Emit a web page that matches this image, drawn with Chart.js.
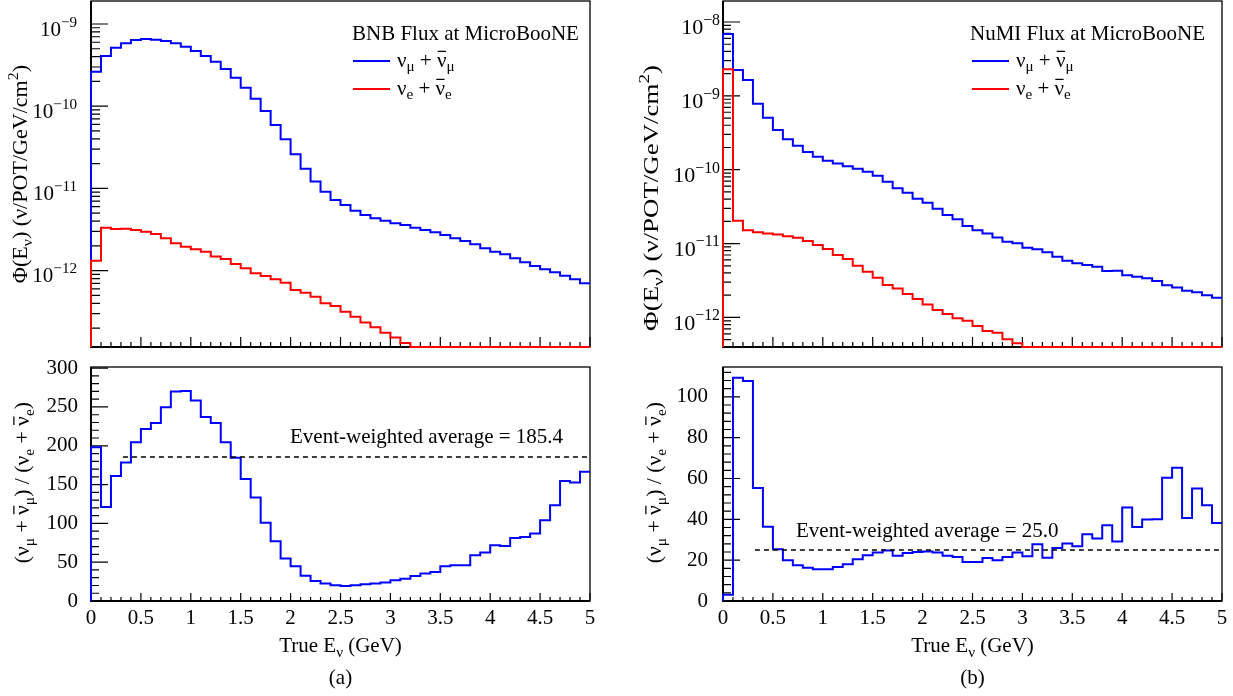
<!DOCTYPE html>
<html>
<head>
<meta charset="utf-8">
<script src="https://cdn.jsdelivr.net/npm/chart.js@4.4.1/dist/chart.umd.min.js"></script>
<style>
  body { margin: 0; background: #fff; width: 1233px; height: 696px; overflow: hidden; position: relative; }
  canvas { position: absolute; left: 0; top: 0; }
</style>
</head>
<body>
<canvas id="bnbFlux" width="1233" height="696"></canvas>
<canvas id="numiFlux" width="1233" height="696"></canvas>
<canvas id="bnbRatio" width="1233" height="696"></canvas>
<canvas id="numiRatio" width="1233" height="696"></canvas>
<script>
// bin edges of the true neutrino energy histograms (GeV)
const binEdges = [0, 0.1, 0.2, 0.3, 0.4, 0.5, 0.6, 0.7, 0.8, 0.9, 1, 1.1, 1.2, 1.3, 1.4, 1.5, 1.6, 1.7, 1.8, 1.9,
  2, 2.1, 2.2, 2.3, 2.4, 2.5, 2.6, 2.7, 2.8, 2.9, 3, 3.1, 3.2, 3.3, 3.4, 3.5, 3.6, 3.7, 3.8, 3.9,
  4, 4.1, 4.2, 4.3, 4.4, 4.5, 4.6, 4.7, 4.8, 4.9, 5];
const xMajorTicks = [0, 0.5, 1, 1.5, 2, 2.5, 3, 3.5, 4, 4.5, 5];

// flux per bin, nu/POT/GeV/cm2
const bnbNumu = [2.63e-10, 4.08e-10, 5.15e-10, 5.82e-10, 6.39e-10, 6.57e-10, 6.44e-10, 6.21e-10, 5.82e-10, 5.30e-10,
  4.70e-10, 4.08e-10, 3.48e-10, 2.84e-10, 2.22e-10, 1.68e-10, 1.23e-10, 8.75e-11, 5.91e-11, 3.95e-11,
  2.60e-11, 1.73e-11, 1.21e-11, 9.12e-12, 7.23e-12, 6.28e-12, 5.36e-12, 4.75e-12, 4.33e-12, 4.05e-12,
  3.76e-12, 3.59e-12, 3.33e-12, 3.12e-12, 2.92e-12, 2.71e-12, 2.47e-12, 2.29e-12, 2.09e-12, 1.87e-12,
  1.70e-12, 1.58e-12, 1.41e-12, 1.26e-12, 1.14e-12, 1.04e-12, 9.53e-13, 8.67e-13, 7.83e-13, 7.00e-13];
const bnbNue = [1.32e-12, 3.33e-12, 3.21e-12, 3.24e-12, 3.12e-12, 2.97e-12, 2.79e-12, 2.47e-12, 2.15e-12, 1.95e-12,
  1.82e-12, 1.70e-12, 1.48e-12, 1.38e-12, 1.20e-12, 1.07e-12, 9.27e-13, 8.59e-13, 7.83e-13, 7.13e-13,
  5.81e-13, 5.39e-13, 4.81e-13, 4.00e-13, 3.71e-13, 3.16e-13, 2.75e-13, 2.34e-13, 2.04e-13, 1.75e-13,
  1.54e-13, 1.32e-13, 0, 0, 0, 0, 0, 0, 0, 0,
  0, 0, 0, 0, 0, 0, 0, 0, 0, 0];
const numiNumu = [6.88e-9, 2.24e-9, 1.64e-9, 7.83e-10, 5.06e-10, 3.45e-10, 2.58e-10, 2.11e-10, 1.74e-10, 1.50e-10,
  1.32e-10, 1.21e-10, 1.11e-10, 1.03e-10, 9.40e-11, 8.30e-11, 6.89e-11, 5.60e-11, 4.89e-11, 4.05e-11,
  3.57e-11, 2.96e-11, 2.44e-11, 2.13e-11, 1.73e-11, 1.52e-11, 1.37e-11, 1.21e-11, 1.06e-11, 1.01e-11,
  8.79e-12, 8.36e-12, 7.61e-12, 6.64e-12, 5.86e-12, 5.40e-12, 5.12e-12, 4.86e-12, 4.25e-12, 4.29e-12,
  3.72e-12, 3.56e-12, 3.38e-12, 3.11e-12, 2.72e-12, 2.55e-12, 2.30e-12, 2.19e-12, 1.99e-12, 1.85e-12];
const numiNue = [2.29e-9, 2.04e-11, 1.52e-11, 1.42e-11, 1.37e-11, 1.33e-11, 1.26e-11, 1.20e-11, 1.08e-11, 9.55e-12,
  8.43e-12, 7.00e-12, 6.17e-12, 5.01e-12, 4.16e-12, 3.45e-12, 2.75e-12, 2.47e-12, 2.07e-12, 1.77e-12,
  1.50e-12, 1.26e-12, 1.11e-12, 9.71e-13, 9.02e-13, 7.64e-13, 6.54e-13, 6.21e-13, 5.05e-13, 4.46e-13,
  0, 0, 0, 0, 0, 0, 0, 0, 0, 0,
  0, 0, 0, 0, 0, 0, 0, 0, 0, 0];

// numu / nue ratio per bin
const bnbRatio = [198, 121, 161, 178.6, 204.4, 221.7, 229.4, 249.6, 269.9, 270.7,
  258.3, 237.2, 229.4, 204.4, 184.7, 157.1, 133.4, 100.7, 77.0, 54.7,
  44.8, 32.6, 25.8, 22.4, 20.2, 19.4, 20.2, 21.5, 22.4, 23.7,
  26.7, 28.8, 32.3, 35.3, 37.4, 44.8, 46.1, 46.1, 59, 62.4,
  71.9, 71, 81.3, 82.6, 86.9, 104.2, 123.5, 154.5, 152.8, 166.6];
const numiRatio = [3.1, 109.3, 107.7, 55.4, 36.4, 25.3, 19.9, 17.5, 16.3, 15.5,
  15.5, 16.7, 18.0, 20.4, 22.4, 23.7, 24.7, 22.1, 23.5, 24.0,
  24.3, 23.7, 22.1, 21.6, 19.1, 19.1, 21.1, 19.9, 21.6, 23.7,
  21.9, 27.8, 21.2, 26.0, 28.1, 26.8, 32.7, 30.6, 37.1, 29.2,
  45.8, 36.3, 39.9, 40.0, 60.3, 65.2, 40.7, 55.1, 46.9, 38.2];
const bnbAverage = 185.4;
const numiAverage = 25.0;
const averageFrom = 0.32;

const bnbRatioTicks = [0, 50, 100, 150, 200, 250, 300];
const numiRatioTicks = [0, 20, 40, 60, 80, 100];

const SERIF = "'Liberation Serif', 'DejaVu Serif', serif";
const BLUE = '#0000ff';
const RED = '#ff0000';
const FONT = 21;

// rich text pieces: [text, mode] where mode is sub, sup or bar (overline)
const numuLabel = [['ν'], ['μ', 'sub'], [' + '], ['ν', 'bar'], ['μ', 'sub']];
const nueLabel = [['ν'], ['e', 'sub'], [' + '], ['ν', 'bar'], ['e', 'sub']];
const fluxTitle = [['Φ(E'], ['ν', 'sub'], [') (ν/POT/GeV/cm'], ['2', 'sup'], [')']];
const ratioTitle = [['(ν'], ['μ', 'sub'], [' + '], ['ν', 'bar'], ['μ', 'sub'], [') / (ν'], ['e', 'sub'], [' + '], ['ν', 'bar'], ['e', 'sub'], [')']];
const energyTitle = [['True E'], ['ν', 'sub'], [' (GeV)']];

function drawRich(ctx, parts, x, y, size, align) {
  const segs = parts.map(([text, mode]) => {
    const s = (mode === 'sub' || mode === 'sup') ? size * 0.72 : size;
    ctx.font = s + 'px ' + SERIF;
    return {text, mode, s, w: ctx.measureText(text).width};
  });
  const total = segs.reduce((acc, g) => acc + g.w, 0);
  let cx = align === 'right' ? x - total : align === 'center' ? x - total / 2 : x;
  ctx.textAlign = 'left';
  ctx.textBaseline = 'alphabetic';
  segs.forEach(g => {
    ctx.font = g.s + 'px ' + SERIF;
    const dy = g.mode === 'sub' ? size * 0.22 : g.mode === 'sup' ? -size * 0.42 : 0;
    ctx.fillText(g.text, cx, y + dy);
    if (g.mode === 'bar') {
      ctx.beginPath();
      ctx.lineWidth = size * 0.06;
      ctx.moveTo(cx + g.w * 0.08, y - size * 0.72);
      ctx.lineTo(cx + g.w * 0.95, y - size * 0.72);
      ctx.stroke();
    }
    cx += g.w;
  });
}

// step outline: start on the axis floor, then one point per bin upper edge;
// empty bins sit on the floor like in the original log plots
function histPoints(values, floor) {
  const pts = [{x: binEdges[0], y: floor}];
  values.forEach((v, i) => pts.push({x: binEdges[i + 1], y: v > 0 ? v : floor}));
  return pts;
}

function logTicks(min, max) {
  const out = [];
  for (let e = Math.floor(Math.log10(min)); e <= Math.ceil(Math.log10(max)); e++) {
    for (let m = 1; m <= 9; m++) {
      const v = m * Math.pow(10, e);
      if (v >= min && v <= max) out.push(v);
    }
  }
  return out;
}

function stepTicks(step, max) {
  const out = [];
  for (let v = 0; v <= max + 1e-9; v += step) out.push(v);
  return out;
}

const isDecade = v => Math.abs(Math.log10(v) - Math.round(Math.log10(v))) < 1e-6;

const bnbFloor = 1.177e-13;
const numiFloor = 3.975e-13;

const panels = {
  bnbFlux: {
    area: {l: 91, r: 590, t: 1, b: 347}, xAxisH: 5, xLabels: false,
    yType: 'logarithmic', yMin: bnbFloor, yMax: 1.905e-9,
    yTick: [17, 9], xTick: [10, 5], yPad: 14, labelSize: 21,
    yTitle: {parts: fluxTitle, x: 27, y: 65, size: FONT, stretch: 1.05},
    legend: {title: 'BNB Flux at MicroBooNE', x: 352, y: 40, lx1: 353, lx2: 390, tx: 397, rows: [61, 89]},
    datasets: [
      {data: histPoints(bnbNumu, bnbFloor), borderColor: BLUE, order: 2},
      {data: histPoints(bnbNue, bnbFloor), borderColor: RED, order: 1}
    ]
  },
  numiFlux: {
    area: {l: 723, r: 1222, t: 1, b: 347}, xAxisH: 5, xLabels: false,
    yType: 'logarithmic', yMin: numiFloor, yMax: 1.925e-8,
    yTick: [17, 8], xTick: [10, 5], yPad: 3, labelSize: 22,
    yTitle: {parts: fluxTitle, x: 658, y: 65, size: FONT, stretch: 1.28},
    legend: {title: 'NuMI Flux at MicroBooNE', x: 970, y: 40, lx1: 972, lx2: 1009, tx: 1016, rows: [61, 89]},
    datasets: [
      {data: histPoints(numiNumu, numiFloor), borderColor: BLUE, order: 2},
      {data: histPoints(numiNue, numiFloor), borderColor: RED, order: 1}
    ]
  },
  bnbRatio: {
    area: {l: 91, r: 590, t: 367, b: 601}, xAxisH: 40, xLabels: true,
    yType: 'linear', yMin: 0, yMax: 301.5, yStep: 10, yLabels: bnbRatioTicks,
    yTick: [17, 8], xTick: [8, 4], yPad: 13, labelSize: FONT,
    yTitle: {parts: ratioTitle, x: 29, y: 402, size: FONT, stretch: 1.03},
    xTitle: {x: 340.5, y: 652}, tag: {text: '(a)', x: 340.5, y: 684},
    note: {text: 'Event-weighted average = ' + bnbAverage.toFixed(1), x: 290, y: 443},
    datasets: [
      {data: [{x: averageFrom, y: bnbAverage}, {x: 5, y: bnbAverage}], borderColor: '#000', borderWidth: 1.5, borderDash: [5, 4], stepped: false, order: 0},
      {data: histPoints(bnbRatio, 0), borderColor: BLUE, order: 1}
    ]
  },
  numiRatio: {
    area: {l: 723, r: 1222, t: 367, b: 601}, xAxisH: 40, xLabels: true,
    yType: 'linear', yMin: 0, yMax: 114.6, yStep: 4, yLabels: numiRatioTicks,
    yTick: [17, 8], xTick: [8, 4], yPad: 15, labelSize: FONT,
    yTitle: {parts: ratioTitle, x: 661, y: 402, size: FONT, stretch: 1.03},
    xTitle: {x: 972.5, y: 652}, tag: {text: '(b)', x: 972.5, y: 684},
    note: {text: 'Event-weighted average = ' + numiAverage.toFixed(1), x: 796, y: 537},
    datasets: [
      {data: [{x: averageFrom, y: numiAverage}, {x: 5, y: numiAverage}], borderColor: '#000', borderWidth: 1.5, borderDash: [5, 4], stepped: false, order: 0},
      {data: histPoints(numiRatio, 0), borderColor: BLUE, order: 1}
    ]
  }
};

const rootFrame = {
  id: 'rootFrame',
  beforeDatasetsDraw(chart) {
    const cfg = panels[chart.canvas.id];
    const {ctx, chartArea: a} = chart;
    const xs = chart.scales.x, ys = chart.scales.y;
    ctx.save();
    ctx.strokeStyle = '#000';
    ctx.lineWidth = 1.3;
    ctx.strokeRect(a.left, a.top, a.right - a.left, a.bottom - a.top);
    ctx.lineWidth = 2;
    ctx.beginPath();
    ctx.moveTo(a.left, a.top);
    ctx.lineTo(a.left, a.bottom);
    ctx.lineTo(a.right, a.bottom);
    ctx.stroke();
    ctx.lineWidth = 1.2;
    ctx.beginPath();
    xs.ticks.forEach(t => {
      const px = xs.getPixelForValue(t.value);
      const len = xMajorTicks.includes(t.value) ? cfg.xTick[0] : cfg.xTick[1];
      ctx.moveTo(px, a.bottom);
      ctx.lineTo(px, a.bottom - len);
    });
    ys.ticks.forEach(t => {
      const py = ys.getPixelForValue(t.value);
      const major = cfg.yType === 'logarithmic' ? isDecade(t.value) : cfg.yLabels.includes(t.value);
      ctx.moveTo(a.left, py);
      ctx.lineTo(a.left + (major ? cfg.yTick[0] : cfg.yTick[1]), py);
    });
    ctx.stroke();
    ctx.restore();
  },
  afterDraw(chart) {
    const cfg = panels[chart.canvas.id];
    const {ctx, chartArea: a} = chart;
    const ys = chart.scales.y;
    ctx.save();
    ctx.fillStyle = '#000';
    ctx.strokeStyle = '#000';

    if (cfg.yType === 'logarithmic') {
      ys.ticks.filter(t => isDecade(t.value)).forEach(t => {
        const py = ys.getPixelForValue(t.value);
        const e = Math.round(Math.log10(t.value));
        drawRich(ctx, [['10'], ['−' + Math.abs(e), 'sup']], a.left - cfg.yPad, py + cfg.labelSize * 0.55, cfg.labelSize, 'right');
      });
    }

    const yt = cfg.yTitle;
    ctx.save();
    ctx.translate(yt.x, yt.y);
    ctx.rotate(-Math.PI / 2);
    ctx.scale(yt.stretch, 1);
    drawRich(ctx, yt.parts, 0, 0, yt.size, 'right');
    ctx.restore();

    if (cfg.xTitle) {
      drawRich(ctx, energyTitle, cfg.xTitle.x, cfg.xTitle.y, FONT, 'center');
      drawRich(ctx, [[cfg.tag.text]], cfg.tag.x, cfg.tag.y, FONT, 'center');
    }

    if (cfg.note) {
      drawRich(ctx, [[cfg.note.text]], cfg.note.x, cfg.note.y, FONT, 'left');
    }

    if (cfg.legend) {
      const lg = cfg.legend;
      drawRich(ctx, [[lg.title]], lg.x, lg.y, FONT, 'left');
      [numuLabel, nueLabel].forEach((parts, i) => {
        ctx.strokeStyle = chart.data.datasets[i].borderColor;
        ctx.lineWidth = 2;
        ctx.beginPath();
        ctx.moveTo(lg.lx1, lg.rows[i]);
        ctx.lineTo(lg.lx2, lg.rows[i]);
        ctx.stroke();
        ctx.strokeStyle = '#000';
        drawRich(ctx, parts, lg.tx, lg.rows[i] + 5.5, FONT, 'left');
      });
    }
    ctx.restore();
  }
};

function makeChart(id) {
  const cfg = panels[id];
  const p = cfg.area;
  const yAxisW = 50;
  cfg.datasets.forEach(ds => {
    ds.borderWidth = ds.borderWidth || 2;
    ds.pointRadius = 0;
    ds.fill = false;
    ds.clip = 3;
    if (ds.stepped === undefined) ds.stepped = 'after';
  });
  return new Chart(document.getElementById(id), {
    type: 'line',
    data: {datasets: cfg.datasets},
    options: {
      responsive: false,
      animation: false,
      events: [],
      layout: {padding: {left: p.l - yAxisW, right: 1233 - p.r, top: p.t, bottom: 696 - p.b - cfg.xAxisH}},
      plugins: {legend: {display: false}, tooltip: {enabled: false}},
      scales: {
        x: {
          type: 'linear', min: 0, max: 5, bounds: 'data',
          grid: {display: false, drawTicks: false},
          border: {display: false},
          afterBuildTicks: s => { s.ticks = binEdges.map(v => ({value: v})); },
          afterFit: s => { s.height = cfg.xAxisH; },
          ticks: {
            display: cfg.xLabels, autoSkip: false, maxRotation: 0, padding: 5, color: '#000',
            font: {family: SERIF, size: FONT},
            callback: v => xMajorTicks.includes(v) ? String(v) : ''
          }
        },
        y: {
          type: cfg.yType, min: cfg.yMin, max: cfg.yMax, bounds: 'data',
          grid: {display: false, drawTicks: false},
          border: {display: false},
          afterBuildTicks: s => {
            const vals = cfg.yType === 'logarithmic' ? logTicks(cfg.yMin, cfg.yMax) : stepTicks(cfg.yStep, cfg.yMax);
            s.ticks = vals.map(v => ({value: v}));
          },
          afterFit: s => { s.width = yAxisW; },
          ticks: {
            display: cfg.yType === 'linear', autoSkip: false, padding: cfg.yPad, color: '#000',
            font: {family: SERIF, size: cfg.labelSize},
            callback: v => (cfg.yLabels && cfg.yLabels.includes(v)) ? String(v) : ''
          }
        }
      }
    },
    plugins: [rootFrame]
  });
}

['bnbFlux', 'numiFlux', 'bnbRatio', 'numiRatio'].forEach(makeChart);
</script>
</body>
</html>
